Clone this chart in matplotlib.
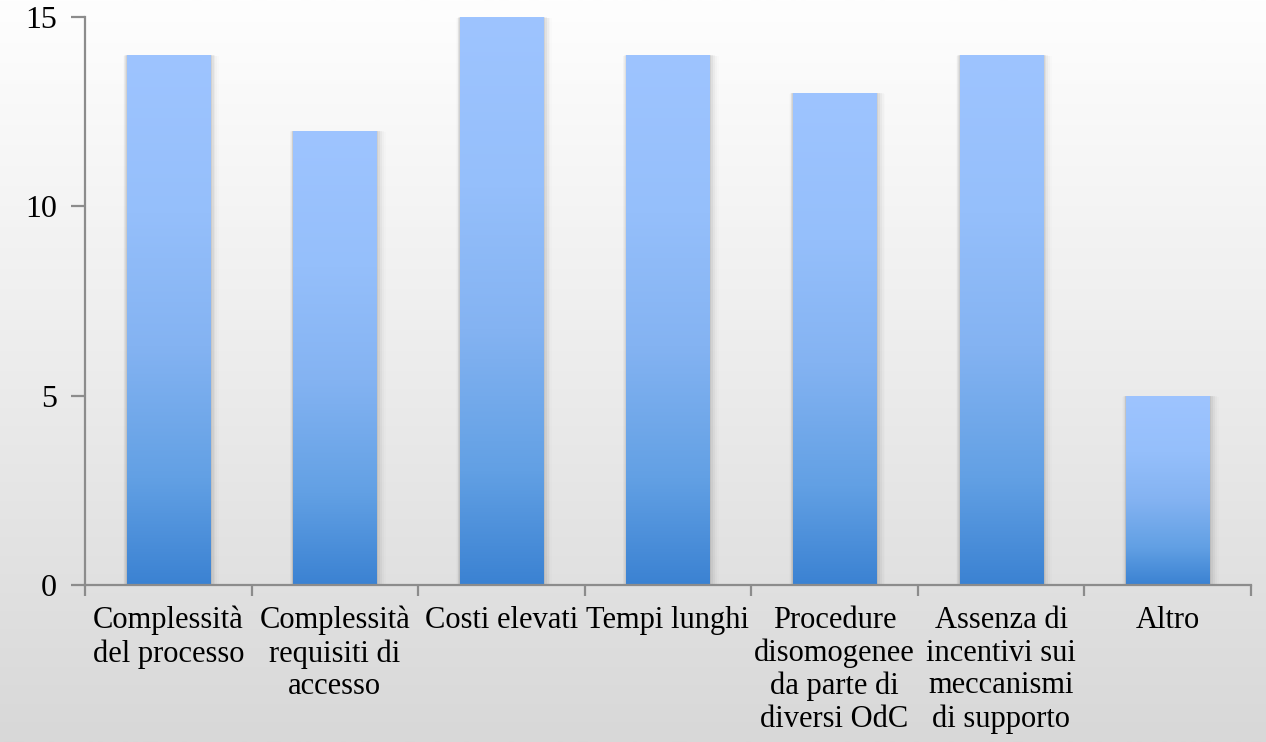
import numpy as np
import matplotlib
matplotlib.use("Agg")
import matplotlib.pyplot as plt
from matplotlib.colors import LinearSegmentedColormap
from matplotlib.patches import Rectangle

categories = [
    "Complessità\ndel processo",
    "Complessità\nrequisiti di\naccesso",
    "Costi elevati",
    "Tempi lunghi",
    "Procedure\ndisomogenee\nda parte di\ndiversi OdC",
    "Assenza di\nincentivi sui\nmeccanismi\ndi supporto",
    "Altro",
]
values = [14, 12, 15, 14, 13, 14, 5]
y_ticks = [0, 5, 10, 15]

plt.rcParams["font.family"] = ["Liberation Serif", "DejaVu Serif"]

W, H = 1266, 742
fig = plt.figure(figsize=(W / 100, H / 100), dpi=100)

# figure background: light vertical gradient
bg = fig.add_axes([0, 0, 1, 1], zorder=-10)
bg_cmap = LinearSegmentedColormap.from_list("bg", ["#d8d8d8", "#ececec", "#fefefe"])
bg.imshow(np.linspace(0, 1, 256).reshape(-1, 1), aspect="auto", cmap=bg_cmap,
          origin="lower", extent=[0, 1, 0, 1])
bg.set_axis_off()

left, right = 85 / W, 1251 / W
bottom, top = (H - 585) / H, (H - 17) / H
ax = fig.add_axes([left, bottom, right - left, top - bottom])
ax.set_facecolor("none")

n = len(categories)
x = np.arange(n)
bar_w = 0.5
bar_cmap = LinearSegmentedColormap.from_list(
    "bar", [(0.0, "#3b82d2"), (0.2, "#62a0e4"), (0.45, "#84b3f2"), (0.7, "#95bffb"), (1.0, "#9ec4ff")])
grad = np.linspace(0, 1, 256).reshape(-1, 1)

bars = ax.bar(x, values, width=bar_w, color="none", edgecolor="none", zorder=3)
for b in bars:
    bx, by = b.get_x(), b.get_y()
    bw, bh = b.get_width(), b.get_height()
    # soft drop shadow
    for k, a in zip(range(1, 6), [0.06, 0.045, 0.032, 0.02, 0.012]):
        dx = 0.011 * k
        sh = Rectangle((bx - dx * 0.4, by - 0.02 * k), bw + dx * 1.4, bh + 0.015 * k,
                       facecolor="black", alpha=a, edgecolor="none", zorder=2)
        ax.add_patch(sh)
    im = ax.imshow(grad, aspect="auto", cmap=bar_cmap, origin="lower",
                   extent=[bx, bx + bw, by, by + bh], zorder=3)
    im.set_clip_path(b)

ax.set_xlim(-0.5, n - 0.5)
ax.set_ylim(0, 15)

for s in ["top", "right"]:
    ax.spines[s].set_visible(False)
for s in ["left", "bottom"]:
    ax.spines[s].set_color("#8c8c8c")
    ax.spines[s].set_linewidth(1.6)
ax.spines["bottom"].set_zorder(4)

ax.set_yticks(y_ticks)
ax.set_yticklabels([str(v) for v in y_ticks], fontsize=23)
ax.tick_params(axis="y", direction="out", length=10, width=1.6, color="#8c8c8c", pad=10)

ax.set_xticks(np.arange(-0.5, n, 1.0))
ax.set_xticklabels([])
ax.tick_params(axis="x", direction="out", length=8, width=1.6, color="#8c8c8c")
ax.set_xticks(x, minor=True)
ax.set_xticklabels(categories, minor=True, fontsize=22, linespacing=1.17)
ax.tick_params(axis="x", which="minor", length=0, pad=15)

fig.savefig("out.png", dpi=100)
